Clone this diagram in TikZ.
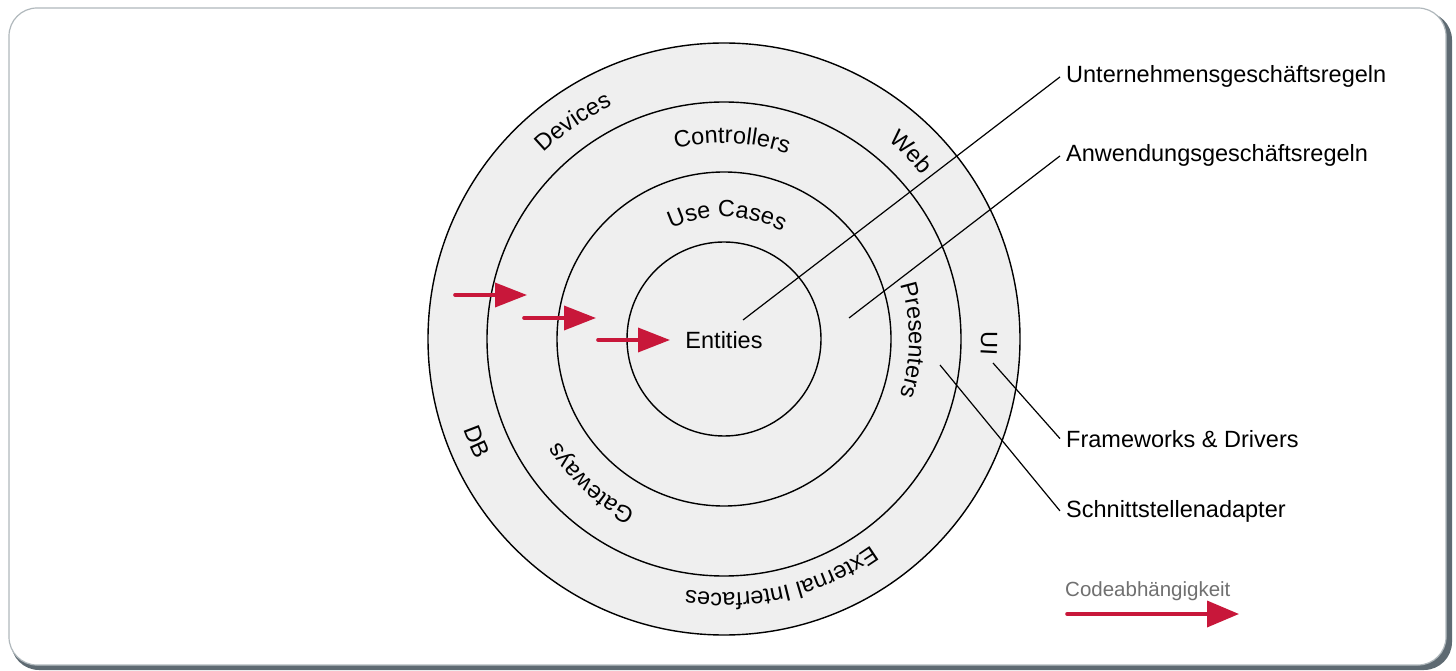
\documentclass[tikz,border=0pt]{standalone}
\usepackage{fontspec}
\setmainfont{Liberation Sans}
\usetikzlibrary{arrows.meta,decorations.text}

\definecolor{ringfill}{HTML}{EFEFEF}
\definecolor{depred}{HTML}{C8173A}
\definecolor{legendgray}{HTML}{707070}
\definecolor{panelborder}{HTML}{B0B8BC}
\definecolor{panelshadow}{HTML}{5E6A72}
\newcommand\ringfont{\fontsize{23.5}{27}\selectfont}
\newcommand\legendfont{\fontsize{20.5}{24}\selectfont}

\begin{document}
\begin{tikzpicture}[x=1pt,y=1pt,
  ring/.style={draw=black, line width=1.4pt, fill=ringfill},
  ringtext/.style={decorate, decoration={text along path, text={|\ringfont|#1}, text align=center}},
  leader/.style={draw=black, line width=1.2pt},
  callout/.style={anchor=base west, inner xsep=6pt, inner ysep=0pt, font=\ringfont},
  dep/.style={draw=depred, line width=3.6pt, line cap=round, -{Triangle[length=32pt,width=24pt]}},
]
\useasboundingbox (0,0) rectangle (1456,670);

% panel with its drop shadow
\fill[panelshadow, rounded corners=28pt] (11,0) rectangle (1452,658);
\filldraw[fill=white, draw=panelborder, line width=1.2pt, rounded corners=28pt] (9,5) rectangle (1446,662);

% concentric layers
\coordinate (c) at (724,331);
\draw[ring] (c) circle[radius=296];
\draw[ring] (c) circle[radius=237];
\draw[ring] (c) circle[radius=167];
\draw[ring] (c) circle[radius=97];

% layer labels set along the rings
\path[ringtext={Devices}] (c) ++(149.8:259) arc[start angle=149.8, end angle=99.8, radius=259];
\path[ringtext={Web}] (c) ++(60:257) arc[start angle=60, end angle=30, radius=257];
\path[ringtext={UI}] (c) ++(9:257) arc[start angle=9, end angle=-11, radius=257];
\path[ringtext={External Interfaces}] (c) ++(-36.5:254) arc[start angle=-36.5, end angle=-116.5, radius=254];
\path[ringtext={DB}] (c) ++(192.6:276) arc[start angle=192.6, end angle=212.6, radius=276];
\path[ringtext={Controllers}] (c) ++(117.7:196) arc[start angle=117.7, end angle=57.7, radius=196];
\path[ringtext={Presenters}] (c) ++(29.6:185) arc[start angle=29.6, end angle=-30.4, radius=185];
\path[ringtext={Gateways}] (c) ++(257.4:194) arc[start angle=257.4, end angle=197.4, radius=194];
\path[ringtext={Use Cases}] (c) ++(133.6:122) arc[start angle=133.6, end angle=43.6, radius=122];

\node[font=\ringfont, inner sep=0pt] (ent) at (724,330) {Entities};

% dependency arrows pointing inwards
\coordinate (a1s) at (455,375); \coordinate (a1e) at (527,375);
\coordinate (a2s) at (524,352); \coordinate (a2e) at (596,352);
\coordinate (a3s) at (598,330); \coordinate (a3e) at (670,330);
\draw[dep] (a1s) -- (a1e);
\draw[dep] (a2s) -- (a2e);
\draw[dep] (a3s) -- (a3e);

% callouts on the right
\node[callout] (l1) at (1060,587) {Unternehmensgeschäftsregeln};
\node[callout] (l2) at (1060,508) {Anwendungsgeschäftsregeln};
\node[callout] (l3) at (1060,223) {Frameworks \& Drivers};
\node[callout] (l4) at (1060,153) {Schnittstellenadapter};

\coordinate (p1) at (743,350);
\coordinate (p2) at (849,352);
\coordinate (p3) at (993,307);
\coordinate (p4) at (940,305);
\draw[leader] (p1) -- (l1.west);
\draw[leader] (p2) -- (l2.west);
\draw[leader] (p3) -- (l3.west);
\draw[leader] (p4) -- (l4.west);

% legend
\node[anchor=base west, inner sep=0pt, font=\legendfont, text=legendgray] (leg) at (1065,74) {Codeabhängigkeit};
\coordinate (ls) at (1067,56);
\coordinate (le) at (1239,56);
\draw[dep, -{Triangle[length=32pt,width=26pt]}] (ls) -- (le);
\end{tikzpicture}
\end{document}
